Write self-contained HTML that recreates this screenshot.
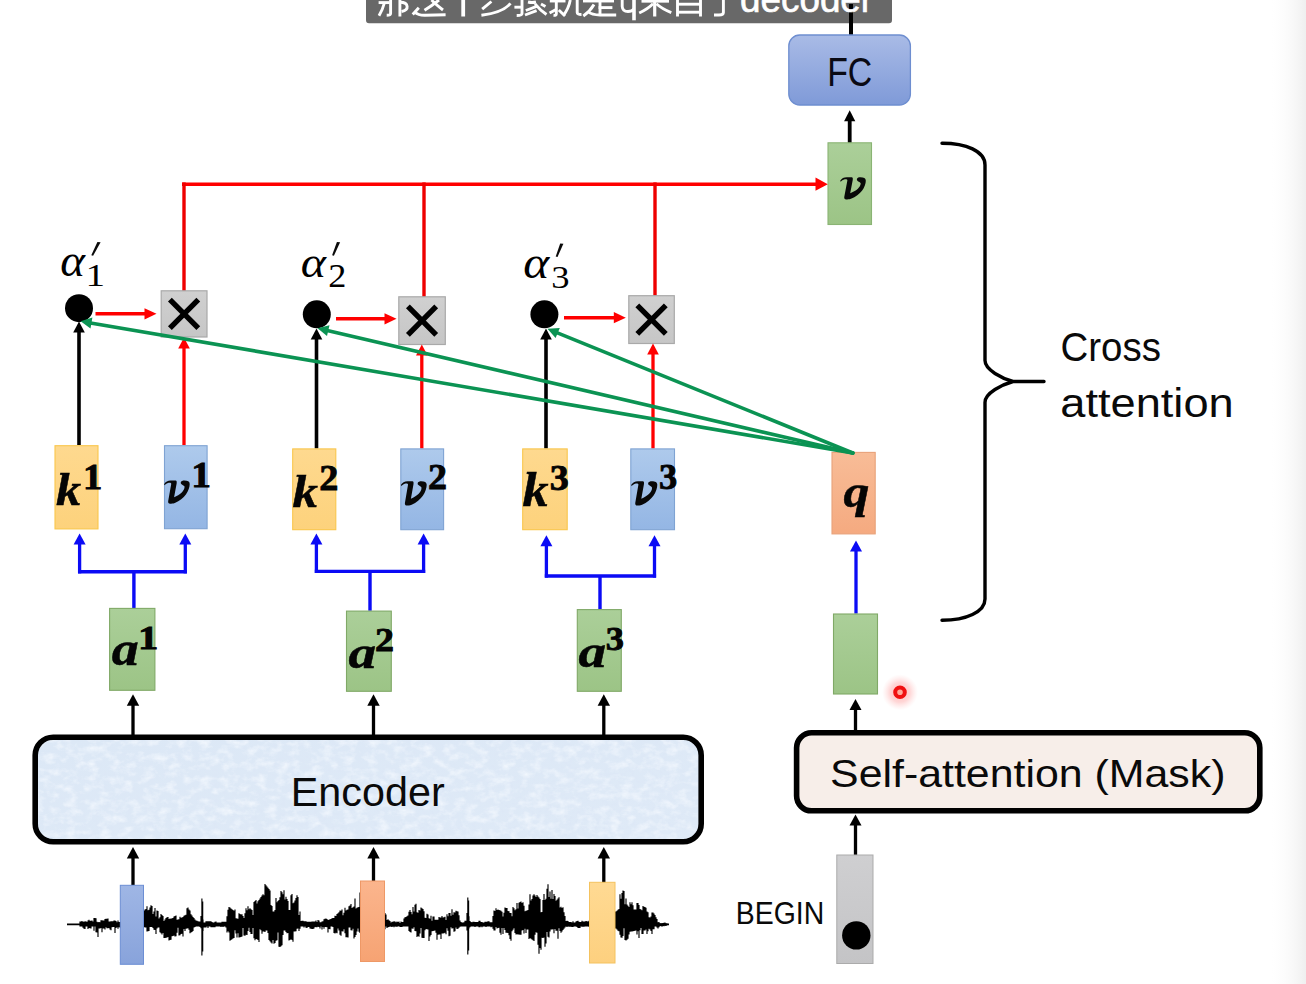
<!DOCTYPE html>
<html><head><meta charset="utf-8"><style>
html,body{margin:0;padding:0;background:#fff;width:1306px;height:984px;overflow:hidden}
svg{display:block}
</style></head><body>
<svg width="1306" height="984" viewBox="0 0 1306 984">
<defs>
<linearGradient id="edge" x1="0" x2="1"><stop offset="0" stop-color="#ffffff" stop-opacity="0"/><stop offset="1" stop-color="#efefef"/></linearGradient>
<linearGradient id="fcg" x1="0" y1="0" x2="0" y2="1"><stop offset="0" stop-color="#a9bbe6"/><stop offset="1" stop-color="#7f9ad8"/></linearGradient>
<linearGradient id="greeng" x1="0" y1="0" x2="0" y2="1"><stop offset="0" stop-color="#abcf99"/><stop offset="1" stop-color="#9cc486"/></linearGradient>
<linearGradient id="greyg" x1="0" y1="0" x2="0" y2="1"><stop offset="0" stop-color="#d0d0d0"/><stop offset="1" stop-color="#c6c6c6"/></linearGradient>
<linearGradient id="orangeg" x1="0" y1="0" x2="0" y2="1"><stop offset="0" stop-color="#fed98f"/><stop offset="1" stop-color="#fdd27c"/></linearGradient>
<linearGradient id="blueg" x1="0" y1="0" x2="0" y2="1"><stop offset="0" stop-color="#aecaec"/><stop offset="1" stop-color="#94b6e4"/></linearGradient>
<linearGradient id="qg" x1="0" y1="0" x2="0" y2="1"><stop offset="0" stop-color="#f8bc97"/><stop offset="1" stop-color="#f5aa80"/></linearGradient>
<linearGradient id="encg" x1="0" y1="0" x2="1" y2="1"><stop offset="0" stop-color="#dce8f6"/><stop offset="1" stop-color="#dfeaf7"/></linearGradient>
<linearGradient id="barblue" x1="0" y1="0" x2="0" y2="1"><stop offset="0" stop-color="#9fb6e5"/><stop offset="1" stop-color="#88a3db"/></linearGradient>
<linearGradient id="barorange" x1="0" y1="0" x2="0" y2="1"><stop offset="0" stop-color="#fbb58d"/><stop offset="1" stop-color="#f6a373"/></linearGradient>
<linearGradient id="baryellow" x1="0" y1="0" x2="0" y2="1"><stop offset="0" stop-color="#ffda93"/><stop offset="1" stop-color="#fdd07f"/></linearGradient>
<linearGradient id="beging" x1="0" y1="0" x2="0" y2="1"><stop offset="0" stop-color="#cfcfd1"/><stop offset="1" stop-color="#c4c4c6"/></linearGradient>
<filter id="paperD" x="0" y="0" width="100%" height="100%"><feTurbulence type="fractalNoise" baseFrequency="0.22 0.3" numOctaves="3" seed="4"/><feColorMatrix type="matrix" values="0 0 0 0 0.72  0 0 0 0 0.80  0 0 0 0 0.92  2.0 0 0 0 -0.92"/></filter><filter id="paperL" x="0" y="0" width="100%" height="100%"><feTurbulence type="fractalNoise" baseFrequency="0.09 0.13" numOctaves="4" seed="9"/><feColorMatrix type="matrix" values="0 0 0 0 0.93  0 0 0 0 0.96  0 0 0 0 1  0 1.6 0 0 -0.7"/></filter>
<radialGradient id="laser"><stop offset="0" stop-color="#ffb8b8" stop-opacity="1"/><stop offset="0.55" stop-color="#ffc8c8" stop-opacity="0.75"/><stop offset="1" stop-color="#ffdede" stop-opacity="0"/></radialGradient>
</defs>
<rect x="1268" y="0" width="38" height="984" fill="url(#edge)"/>
<path d="M366,0 H892 V20 Q892,23.3 889,23.3 H369 Q366,23.3 366,20 Z" fill="#686868"/>
<line x1="851" y1="4" x2="851" y2="36" stroke="#000" stroke-width="4"/>
<g fill="none" stroke="#fff" stroke-width="2.9" stroke-linecap="butt" stroke-linejoin="round">
<path d="M378.6,2.6 H389.7"/><path d="M384.2,3.5 Q382.5,10 379,15.8"/><path d="M390.6,0 V13.5 Q390.5,15.3 386.7,15.3"/>
<path d="M399.9,0 V16.5"/><path d="M400,2.3 C409,2.3 409.5,10 401.5,11.5"/>
<path d="M418.8,7.7 L412.7,14.5"/><path d="M415,12.2 Q418,15.3 425,15.2 L445.6,14.8"/>
<path d="M424.5,10.3 Q432,5.5 439,0"/><path d="M431.5,0 Q437,5.5 443,10"/>
<path d="M463.2,0 V16.5" stroke-width="3.8"/>
<path d="M491.4,1.5 L482.2,9.2"/><path d="M510.5,3.4 Q503,12.5 481.4,15.3"/>
<path d="M514.4,7.2 H523"/><path d="M522,0 V13.5 Q522,15.5 516.7,15.5"/>
<path d="M525,15 L536.6,10.7"/><path d="M525.8,10.5 L537.3,6.1"/><path d="M528,2 Q532,3 536,2"/><path d="M535,3.8 Q540,10 546.5,14.5"/><path d="M541,4 L545.5,6.5"/>
<path d="M549.8,1 H565.5"/><path d="M556.5,9.2 L549.6,13"/><path d="M556.3,0 V14 Q556.3,15.5 553.5,15.3"/><path d="M558.8,10 L565,16"/>
<path d="M570.3,0 Q568.5,9 563.4,15.3"/><path d="M577.2,0 V12.5 Q577.2,14.6 581.5,14.5"/>
<path d="M583,1 H614"/><path d="M598.6,7.6 H612.4"/><path d="M600,1 V14"/><path d="M594,4.6 Q590,11.5 583.3,16"/><path d="M587.9,11.5 Q592,15 600,15 H616.2"/>
<path d="M622.2,0 V6.5 Q622.5,11.5 628,11.5 Q632,11.5 634,9"/><path d="M634,0 V20.3" stroke-width="3.6"/>
<path d="M641.5,1.2 H669"/><path d="M654.7,0 V16.5" stroke-width="3.2"/><path d="M653,3.8 Q648,9 639.2,13"/><path d="M656.4,3.8 Q662,9 671.3,12.6"/>
<path d="M677.5,0 V16.5"/><path d="M700.5,0 V16.5"/><path d="M678,4.2 H700"/><path d="M678,12.2 H700"/>
<path d="M723.4,0 V12.5 Q723.4,15 719,15 H714"/>
</g><text transform="translate(740.03,12.06) scale(1.0059,1)" font-family="'Liberation Sans', sans-serif" font-style="normal" font-weight="normal" font-size="36.63" fill="#ffffff" stroke="#fff" stroke-width="0.6">decoder</text>
<line x1="851" y1="13" x2="851" y2="36" stroke="#000" stroke-width="4"/>
<rect x="788.8" y="35" width="121.6" height="70" rx="11" fill="url(#fcg)" stroke="#6e8ed0" stroke-width="1.3"/>
<text transform="translate(827.20,85.60) scale(0.8241,1)" font-family="'Liberation Sans', sans-serif" font-style="normal" font-weight="normal" font-size="41.01" fill="#0a0a14" >FC</text>
<line x1="849.7" y1="143" x2="849.7" y2="120.3" stroke="#000" stroke-width="3.8"/><polygon points="849.7,110.3 844.1,121.3 855.3000000000001,121.3" fill="#000"/>
<rect x="828" y="142.8" width="43.5" height="81.7" fill="url(#greeng)" stroke="#8ab474" stroke-width="1.1"/>
<path transform="translate(840.2,177.3) scale(25.59999999999991,22.19999999999999)" d="M0,0.16 C0.06,0.05 0.14,0 0.26,0 L0.45,0 C0.49,0 0.5,0.05 0.49,0.12 L0.39,0.72 C0.62,0.62 0.8,0.45 0.8,0.27 C0.8,0.22 0.71,0.2 0.67,0.15 C0.63,0.1 0.65,0 0.79,0 C0.92,0 1,0.04 1,0.15 C1,0.42 0.8,0.8 0.42,0.97 C0.34,1 0.28,1 0.24,1 C0.17,1 0.15,0.95 0.16,0.88 L0.28,0.14 C0.28,0.09 0.22,0.08 0.15,0.1 C0.09,0.12 0.04,0.17 0.02,0.2 Z" fill="#080808"/>
<line x1="182" y1="184.2" x2="817" y2="184.2" stroke="#ff0000" stroke-width="3.6"/>
<polygon points="827.8,184.2 815.5,177.6 815.5,190.8" fill="#ff0000"/>
<line x1="184" y1="182.4" x2="184" y2="291.5" stroke="#ee0000" stroke-width="3.4"/>
<line x1="424" y1="182.4" x2="424" y2="297" stroke="#ee0000" stroke-width="3.4"/>
<line x1="655" y1="182.4" x2="655" y2="296" stroke="#ee0000" stroke-width="3.4"/>
<rect x="161.2" y="290.8" width="45.80000000000001" height="46.19999999999999" fill="url(#greyg)" stroke="#a9a9a9" stroke-width="1.2"/><path d="M169.9,299.7 L198.3,328.1 M198.3,299.7 L169.9,328.1" stroke="#000" stroke-width="5.4"/>
<rect x="398.8" y="296.8" width="46.5" height="47.69999999999999" fill="url(#greyg)" stroke="#a9a9a9" stroke-width="1.2"/><path d="M407.9,306.4 L436.2,334.8 M436.2,306.4 L407.9,334.8" stroke="#000" stroke-width="5.4"/>
<rect x="628.8" y="295.7" width="45.5" height="47.80000000000001" fill="url(#greyg)" stroke="#a9a9a9" stroke-width="1.2"/><path d="M637.3,305.4 L665.8,333.8 M665.8,305.4 L637.3,333.8" stroke="#000" stroke-width="5.4"/>
<circle cx="79" cy="308.2" r="14" fill="#000"/>
<circle cx="316.8" cy="314.3" r="14" fill="#000"/>
<circle cx="544.4" cy="314.3" r="14" fill="#000"/>
<line x1="95.5" y1="313.8" x2="145.5" y2="313.8" stroke="#ff0000" stroke-width="3.6"/><polygon points="156.5,313.8 144.5,308.2 144.5,319.40000000000003" fill="#ff0000"/>
<line x1="336" y1="318.8" x2="385.5" y2="318.8" stroke="#ff0000" stroke-width="3.6"/><polygon points="396.5,318.8 384.5,313.2 384.5,324.40000000000003" fill="#ff0000"/>
<line x1="564" y1="317.7" x2="614.8" y2="317.7" stroke="#ff0000" stroke-width="3.6"/><polygon points="625.8,317.7 613.8,312.09999999999997 613.8,323.3" fill="#ff0000"/>
<text transform="translate(60.29,276.14) scale(1.0267,1)" font-family="'Liberation Serif', serif" font-style="italic" font-weight="normal" font-size="45.83" fill="#000" >α</text>
<polygon points="97.4,242 100.6,242.3 93.1,255.7 91.3,255.3" fill="#0a0a0a"/>
<text transform="translate(85.58,285.80) scale(1.2016,1)" font-family="'Liberation Serif', serif" font-style="normal" font-weight="normal" font-size="32.58" fill="#000" >1</text>
<text transform="translate(300.86,277.25) scale(1.0626,1)" font-family="'Liberation Serif', serif" font-style="italic" font-weight="normal" font-size="45.21" fill="#000" >α</text>
<polygon points="336.9,242 340.1,242.3 333.9,255.7 332.1,255.3" fill="#0a0a0a"/>
<text transform="translate(328.27,287.20) scale(1.0975,1)" font-family="'Liberation Serif', serif" font-style="normal" font-weight="normal" font-size="33.03" fill="#000" >2</text>
<text transform="translate(523.22,277.54) scale(1.0781,1)" font-family="'Liberation Serif', serif" font-style="italic" font-weight="normal" font-size="45.83" fill="#000" >α</text>
<polygon points="560.2,243.4 563.4,243.7 557.5,257 555.7,256.6" fill="#0a0a0a"/>
<text transform="translate(551.17,288.08) scale(1.1508,1)" font-family="'Liberation Serif', serif" font-style="normal" font-weight="normal" font-size="31.79" fill="#000" >3</text>
<line x1="79" y1="445" x2="79" y2="331.5" stroke="#000" stroke-width="3.6"/><polygon points="79,321.5 73.2,332.5 84.8,332.5" fill="#000"/>
<line x1="316.5" y1="448.5" x2="316.5" y2="338.5" stroke="#000" stroke-width="3.6"/><polygon points="316.5,328.5 310.7,339.5 322.3,339.5" fill="#000"/>
<line x1="546" y1="448.5" x2="546" y2="338.5" stroke="#000" stroke-width="3.6"/><polygon points="546,328.5 540.2,339.5 551.8,339.5" fill="#000"/>
<line x1="184" y1="445" x2="184" y2="347.5" stroke="#ff0000" stroke-width="3.3"/><polygon points="184,337.5 178.2,348.5 189.8,348.5" fill="#ff0000"/>
<line x1="421.8" y1="448.5" x2="421.8" y2="354.5" stroke="#ff0000" stroke-width="3.3"/><polygon points="421.8,344.5 416.0,355.5 427.6,355.5" fill="#ff0000"/>
<line x1="653" y1="448.5" x2="653" y2="353.5" stroke="#ff0000" stroke-width="3.3"/><polygon points="653,343.5 647.2,354.5 658.8,354.5" fill="#ff0000"/>
<rect x="55.0" y="445.7" width="43.0" height="83.2" fill="url(#orangeg)" stroke="#f9c64c" stroke-width="1.1"/>
<rect x="292.7" y="448.9" width="43.1" height="80.8" fill="url(#orangeg)" stroke="#f9c64c" stroke-width="1.1"/>
<rect x="522.7" y="448.9" width="44.5" height="80.8" fill="url(#orangeg)" stroke="#f9c64c" stroke-width="1.1"/>
<rect x="164.5" y="445.7" width="42.6" height="83.0" fill="url(#blueg)" stroke="#7fa3d3" stroke-width="1.1"/>
<rect x="400.8" y="448.9" width="42.8" height="80.8" fill="url(#blueg)" stroke="#7fa3d3" stroke-width="1.1"/>
<rect x="630.8" y="448.9" width="43.7" height="80.8" fill="url(#blueg)" stroke="#7fa3d3" stroke-width="1.1"/>
<text transform="translate(55.95,505.00) scale(1.0552,1)" font-family="'Liberation Serif', serif" font-style="italic" font-weight="bold" font-size="47.48" fill="#050505" stroke="#000" stroke-width="0.5">k</text>
<text transform="translate(82.91,488.80) scale(1.1042,1)" font-family="'Liberation Serif', serif" font-style="normal" font-weight="bold" font-size="35.00" fill="#050505" stroke="#000" stroke-width="0.8">1</text>
<text transform="translate(292.44,507.40) scale(1.0718,1)" font-family="'Liberation Serif', serif" font-style="italic" font-weight="bold" font-size="47.34" fill="#050505" stroke="#000" stroke-width="0.5">k</text>
<text transform="translate(319.37,490.00) scale(1.0670,1)" font-family="'Liberation Serif', serif" font-style="normal" font-weight="bold" font-size="35.91" fill="#050505" stroke="#000" stroke-width="0.8">2</text>
<text transform="translate(522.42,506.20) scale(1.0886,1)" font-family="'Liberation Serif', serif" font-style="italic" font-weight="bold" font-size="47.77" fill="#050505" stroke="#000" stroke-width="0.5">k</text>
<text transform="translate(549.68,490.04) scale(1.0597,1)" font-family="'Liberation Serif', serif" font-style="normal" font-weight="bold" font-size="35.97" fill="#050505" stroke="#000" stroke-width="0.8">3</text>
<path transform="translate(164.1,480.6) scale(25.599999999999994,23.19999999999999)" d="M0,0.16 C0.06,0.05 0.14,0 0.26,0 L0.45,0 C0.49,0 0.5,0.05 0.49,0.12 L0.39,0.72 C0.62,0.62 0.8,0.45 0.8,0.27 C0.8,0.22 0.71,0.2 0.67,0.15 C0.63,0.1 0.65,0 0.79,0 C0.92,0 1,0.04 1,0.15 C1,0.42 0.8,0.8 0.42,0.97 C0.34,1 0.28,1 0.24,1 C0.17,1 0.15,0.95 0.16,0.88 L0.28,0.14 C0.28,0.09 0.22,0.08 0.15,0.1 C0.09,0.12 0.04,0.17 0.02,0.2 Z" fill="#080808"/>
<text transform="translate(191.14,486.70) scale(1.0943,1)" font-family="'Liberation Serif', serif" font-style="normal" font-weight="bold" font-size="36.06" fill="#050505" stroke="#000" stroke-width="0.8">1</text>
<path transform="translate(400.8,481.2) scale(25.899999999999977,24.400000000000034)" d="M0,0.16 C0.06,0.05 0.14,0 0.26,0 L0.45,0 C0.49,0 0.5,0.05 0.49,0.12 L0.39,0.72 C0.62,0.62 0.8,0.45 0.8,0.27 C0.8,0.22 0.71,0.2 0.67,0.15 C0.63,0.1 0.65,0 0.79,0 C0.92,0 1,0.04 1,0.15 C1,0.42 0.8,0.8 0.42,0.97 C0.34,1 0.28,1 0.24,1 C0.17,1 0.15,0.95 0.16,0.88 L0.28,0.14 C0.28,0.09 0.22,0.08 0.15,0.1 C0.09,0.12 0.04,0.17 0.02,0.2 Z" fill="#080808"/>
<text transform="translate(427.98,489.10) scale(1.0878,1)" font-family="'Liberation Serif', serif" font-style="normal" font-weight="bold" font-size="35.00" fill="#050505" stroke="#000" stroke-width="0.8">2</text>
<path transform="translate(631.1,481.2) scale(26.199999999999932,24.400000000000034)" d="M0,0.16 C0.06,0.05 0.14,0 0.26,0 L0.45,0 C0.49,0 0.5,0.05 0.49,0.12 L0.39,0.72 C0.62,0.62 0.8,0.45 0.8,0.27 C0.8,0.22 0.71,0.2 0.67,0.15 C0.63,0.1 0.65,0 0.79,0 C0.92,0 1,0.04 1,0.15 C1,0.42 0.8,0.8 0.42,0.97 C0.34,1 0.28,1 0.24,1 C0.17,1 0.15,0.95 0.16,0.88 L0.28,0.14 C0.28,0.09 0.22,0.08 0.15,0.1 C0.09,0.12 0.04,0.17 0.02,0.2 Z" fill="#080808"/>
<text transform="translate(658.94,488.75) scale(1.0310,1)" font-family="'Liberation Serif', serif" font-style="normal" font-weight="bold" font-size="35.37" fill="#050505" stroke="#000" stroke-width="0.8">3</text>
<rect x="832.0" y="452.4" width="43.2" height="81.5" fill="url(#qg)" stroke="#e8a27a" stroke-width="1.1"/>
<text transform="translate(843.42,506.52) scale(1.1041,1)" font-family="'Liberation Serif', serif" font-style="italic" font-weight="bold" font-size="46.86" fill="#050505" stroke="#000" stroke-width="0.5">q</text>
<line x1="852.8" y1="453" x2="90.5" y2="322.9" stroke="#0b9353" stroke-width="3.6" stroke-linecap="round"/><polygon points="80.6,321.2 92.4,317.6 90.5,328.5" fill="#0b9353"/>
<line x1="852.8" y1="453" x2="327.2" y2="330.5" stroke="#0b9353" stroke-width="3.6" stroke-linecap="round"/><polygon points="317.5,328.2 329.5,325.3 327.0,336.1" fill="#0b9353"/>
<line x1="852.8" y1="453" x2="556.8" y2="332.6" stroke="#0b9353" stroke-width="3.6" stroke-linecap="round"/><polygon points="547.5,328.8 559.8,327.9 555.6,338.0" fill="#0b9353"/>
<path d="M133.9,608.4 V571.8 M78.0,571.8 H186.9" stroke="#0b0bf5" stroke-width="3.4" fill="none"/>
<line x1="79.6" y1="573.4" x2="79.6" y2="543.5" stroke="#0b0bf5" stroke-width="3.3"/><polygon points="79.6,533.5 73.6,544.5 85.6,544.5" fill="#0b0bf5"/>
<line x1="185.3" y1="573.4" x2="185.3" y2="543.5" stroke="#0b0bf5" stroke-width="3.3"/><polygon points="185.3,533.5 179.3,544.5 191.3,544.5" fill="#0b0bf5"/>
<path d="M370,610.7 V571.4 M314.79999999999995,571.4 H425.20000000000005" stroke="#0b0bf5" stroke-width="3.4" fill="none"/>
<line x1="316.4" y1="573.0" x2="316.4" y2="543.5" stroke="#0b0bf5" stroke-width="3.3"/><polygon points="316.4,533.5 310.4,544.5 322.4,544.5" fill="#0b0bf5"/>
<line x1="423.6" y1="573.0" x2="423.6" y2="543.5" stroke="#0b0bf5" stroke-width="3.3"/><polygon points="423.6,533.5 417.6,544.5 429.6,544.5" fill="#0b0bf5"/>
<path d="M600,609.2 V576 M544.8,576 H656.1" stroke="#0b0bf5" stroke-width="3.4" fill="none"/>
<line x1="546.4" y1="577.6" x2="546.4" y2="545.3" stroke="#0b0bf5" stroke-width="3.3"/><polygon points="546.4,535.3 540.4,546.3 552.4,546.3" fill="#0b0bf5"/>
<line x1="654.5" y1="577.6" x2="654.5" y2="545.3" stroke="#0b0bf5" stroke-width="3.3"/><polygon points="654.5,535.3 648.5,546.3 660.5,546.3" fill="#0b0bf5"/>
<line x1="856" y1="613.6" x2="856" y2="550.4" stroke="#0b0bf5" stroke-width="3.3"/><polygon points="856,540.4 850,551.4 862,551.4" fill="#0b0bf5"/>
<rect x="109.6" y="608.4" width="45.3" height="81.9" fill="url(#greeng)" stroke="#80a967" stroke-width="1.1"/>
<rect x="346.5" y="611.1" width="44.8" height="80.2" fill="url(#greeng)" stroke="#80a967" stroke-width="1.1"/>
<rect x="577.3" y="609.6" width="44.0" height="81.7" fill="url(#greeng)" stroke="#80a967" stroke-width="1.1"/>
<text transform="translate(111.76,664.82) scale(1.1265,1)" font-family="'Liberation Serif', serif" font-style="italic" font-weight="bold" font-size="47.92" fill="#050505" stroke="#000" stroke-width="0.5">a</text>
<text transform="translate(138.04,649.30) scale(1.1762,1)" font-family="'Liberation Serif', serif" font-style="normal" font-weight="bold" font-size="34.70" fill="#050505" stroke="#000" stroke-width="0.8">1</text>
<text transform="translate(348.55,667.73) scale(1.1739,1)" font-family="'Liberation Serif', serif" font-style="italic" font-weight="bold" font-size="47.08" fill="#050505" stroke="#000" stroke-width="0.5">a</text>
<text transform="translate(375.08,650.50) scale(1.1118,1)" font-family="'Liberation Serif', serif" font-style="normal" font-weight="bold" font-size="34.24" fill="#050505" stroke="#000" stroke-width="0.8">2</text>
<text transform="translate(578.55,667.43) scale(1.1739,1)" font-family="'Liberation Serif', serif" font-style="italic" font-weight="bold" font-size="47.08" fill="#050505" stroke="#000" stroke-width="0.5">a</text>
<text transform="translate(605.74,650.16) scale(1.0812,1)" font-family="'Liberation Serif', serif" font-style="normal" font-weight="bold" font-size="33.73" fill="#050505" stroke="#000" stroke-width="0.8">3</text>
<rect x="833.5" y="614.0" width="44.0" height="80.0" fill="url(#greeng)" stroke="#80a967" stroke-width="1.1"/>
<circle cx="900" cy="692.3" r="18" fill="url(#laser)"/>
<circle cx="900" cy="692.3" r="4.8" fill="#ffa898" stroke="#f01010" stroke-width="4"/>
<line x1="133" y1="737" x2="133" y2="704.8" stroke="#000" stroke-width="3.3"/><polygon points="133,694.3 126.8,705.8 139.2,705.8" fill="#000"/>
<line x1="133" y1="885" x2="133" y2="857.5" stroke="#000" stroke-width="3.3"/><polygon points="133,847 126.8,858.5 139.2,858.5" fill="#000"/>
<line x1="373.5" y1="737" x2="373.5" y2="704.8" stroke="#000" stroke-width="3.3"/><polygon points="373.5,694.3 367.3,705.8 379.7,705.8" fill="#000"/>
<line x1="373.5" y1="885" x2="373.5" y2="857.5" stroke="#000" stroke-width="3.3"/><polygon points="373.5,847 367.3,858.5 379.7,858.5" fill="#000"/>
<line x1="603.8" y1="737" x2="603.8" y2="704.8" stroke="#000" stroke-width="3.3"/><polygon points="603.8,694.3 597.5999999999999,705.8 610.0,705.8" fill="#000"/>
<line x1="603.8" y1="885" x2="603.8" y2="857.5" stroke="#000" stroke-width="3.3"/><polygon points="603.8,847 597.5999999999999,858.5 610.0,858.5" fill="#000"/>
<rect x="35.2" y="737.3" width="666" height="104.5" rx="18" fill="url(#encg)" stroke="#000" stroke-width="5.6"/>
<clipPath id="encclip"><rect x="38" y="740" width="660" height="99" rx="15"/></clipPath><g clip-path="url(#encclip)"><rect x="38" y="740" width="660" height="99" fill="#000" filter="url(#paperD)"/><rect x="38" y="740" width="660" height="99" fill="#000" filter="url(#paperL)"/></g>
<text transform="translate(290.79,806.00) scale(1.0183,1)" font-family="'Liberation Sans', sans-serif" font-style="normal" font-weight="normal" font-size="40.58" fill="#0a0a0a" >Encoder</text>
<line x1="67" y1="924.4" x2="669" y2="924.4" stroke="#000" stroke-width="1.8"/><path d="M80.0,921.6V926.4M81.0,921.6V926.4M82.0,921.1V926.4M83.0,921.7V927.8M84.0,921.6V928.8M85.0,921.4V929.0M86.0,921.3V926.4M87.0,922.1V926.4M88.0,920.5V928.9M89.0,919.8V928.1M90.0,920.8V928.2M91.0,920.7V928.4M92.0,920.5V926.4M93.0,921.5V926.5M94.0,918.1V930.8M95.0,917.9V926.5M96.0,918.2V932.3M97.0,921.8V932.6M98.0,922.2V936.9M99.0,922.1V928.6M100.0,922.2V928.6M101.0,920.3V928.1M102.0,920.2V932.2M103.0,920.5V928.5M104.0,920.4V928.5M105.0,919.0V929.4M106.0,918.8V927.2M107.0,918.7V928.2M108.0,918.6V928.3M109.0,921.4V927.9M110.0,921.4V929.4M111.0,921.3V930.3M112.0,921.2V927.2M113.0,921.2V927.1M114.0,920.5V927.1M115.0,920.6V932.9M116.0,921.0V927.9M117.0,922.2V927.3M118.0,920.5V928.7M119.0,922.0V927.2M120.0,922.1V927.6M121.0,921.8V928.2M122.0,922.4V926.5M123.0,921.4V927.2M124.0,920.3V927.4M125.0,920.0V927.6M126.0,919.6V926.4M127.0,921.4V926.4M128.0,921.2V926.4M129.0,917.2V929.4M130.0,915.1V928.4M131.0,914.6V928.6M132.0,914.0V928.8M133.0,913.5V929.0M134.0,914.7V929.2M135.0,914.2V931.4M136.0,913.8V930.2M137.0,914.0V926.7M138.0,913.6V926.8M139.0,913.1V926.9M140.0,911.6V929.4M141.0,911.1V932.6M142.0,911.7V928.0M143.0,911.3V931.6M144.0,910.8V927.0M145.0,909.5V927.6M146.0,908.9V927.5M147.0,906.3V931.4M148.0,910.3V931.2M149.0,909.8V931.0M150.0,907.5V927.0M151.0,905.2V927.0M152.0,905.9V927.1M153.0,914.1V927.9M154.0,911.4V929.7M155.0,908.0V929.9M156.0,916.6V933.9M157.0,910.4V928.5M158.0,911.0V927.5M159.0,918.5V927.5M160.0,917.3V932.2M161.0,914.1V933.3M162.0,915.1V934.4M163.0,916.1V933.1M164.0,921.1V938.1M165.0,919.4V938.1M166.0,917.9V937.8M167.0,917.3V937.5M168.0,916.9V937.1M169.0,918.9V940.6M170.0,918.6V940.1M171.0,918.7V939.7M172.0,918.3V936.2M173.0,917.9V935.9M174.0,916.4V935.6M175.0,916.0V936.5M176.0,915.4V936.2M177.0,919.8V932.7M178.0,919.6V927.7M179.0,919.3V935.6M180.0,916.7V935.3M181.0,917.8V934.0M182.0,917.4V933.8M183.0,917.0V936.5M184.0,915.7V928.9M185.0,915.2V930.9M186.0,914.7V928.8M187.0,908.2V928.5M188.0,907.6V928.3M189.0,909.6V929.7M190.0,910.4V933.2M191.0,914.3V932.5M192.0,915.5V931.9M193.0,917.1V931.1M194.0,918.1V927.5M195.0,919.5V927.1M196.0,920.4V926.4M197.0,920.8V926.4M198.0,921.2V926.4M199.0,921.4V926.4M200.0,921.4V927.0M201.0,915.9V928.3M202.0,906.4V937.7M203.0,919.4V931.1M204.0,922.4V927.4M205.0,922.4V927.4M206.0,921.3V927.4M207.0,921.3V926.4M208.0,921.3V928.0M209.0,921.3V926.4M210.0,921.3V926.4M211.0,921.3V927.2M212.0,921.9V927.2M213.0,922.4V927.2M214.0,922.4V927.2M215.0,921.7V927.2M216.0,921.4V926.4M217.0,922.4V926.4M218.0,922.4V926.4M219.0,922.4V926.4M220.0,922.4V926.4M221.0,922.4V927.1M222.0,921.8V926.4M223.0,921.8V926.9M224.0,921.8V926.4M225.0,921.8V926.4M226.0,921.7V927.6M227.0,916.2V932.4M228.0,909.8V931.2M229.0,906.9V932.6M230.0,907.6V940.7M231.0,908.4V940.1M232.0,909.2V939.2M233.0,909.9V938.6M234.0,910.7V938.0M235.0,909.4V930.2M236.0,918.2V933.4M237.0,918.5V937.4M238.0,918.7V933.2M239.0,913.3V937.5M240.0,913.9V937.2M241.0,914.4V936.9M242.0,914.3V936.5M243.0,916.0V928.0M244.0,917.9V935.4M245.0,913.2V935.7M246.0,908.3V934.8M247.0,910.3V935.0M248.0,906.2V931.1M249.0,909.3V927.7M250.0,908.3V932.1M251.0,909.3V933.9M252.0,909.9V934.1M253.0,915.0V927.9M254.0,901.9V938.3M255.0,901.0V940.2M256.0,900.1V939.0M257.0,903.4V939.3M258.0,901.3V939.9M259.0,899.9V941.9M260.0,898.5V929.2M261.0,897.1V930.3M262.0,895.6V933.8M263.0,894.2V931.4M264.0,895.3V931.6M265.0,884.0V932.0M266.0,885.2V930.4M267.0,886.5V930.6M268.0,887.7V933.1M269.0,889.0V940.1M270.0,890.5V941.2M271.0,905.1V942.4M272.0,906.0V943.6M273.0,911.4V940.1M274.0,911.6V943.8M275.0,910.1V943.1M276.0,898.0V940.8M277.0,902.2V940.2M278.0,901.1V932.4M279.0,900.1V946.8M280.0,897.2V947.1M281.0,891.0V946.2M282.0,892.3V945.3M283.0,894.3V935.0M284.0,890.3V930.6M285.0,899.5V930.5M286.0,896.7V932.0M287.0,899.0V933.2M288.0,900.9V933.1M289.0,910.1V940.6M290.0,910.1V939.9M291.0,895.2V939.2M292.0,894.0V940.0M293.0,903.3V941.7M294.0,902.4V931.6M295.0,900.6V931.5M296.0,898.0V931.2M297.0,895.2V928.8M298.0,897.1V928.6M299.0,915.0V931.1M300.0,911.4V928.7M301.0,920.9V926.4M302.0,920.8V926.4M303.0,920.8V926.4M304.0,921.3V927.4M305.0,921.3V926.4M306.0,921.2V927.8M307.0,921.8V927.9M308.0,921.8V927.0M309.0,921.8V927.1M310.0,921.7V928.6M311.0,921.7V928.8M312.0,921.6V928.9M313.0,921.6V929.1M314.0,921.6V928.5M315.0,921.5V927.1M316.0,920.5V927.2M317.0,922.0V927.3M318.0,919.9V926.8M319.0,920.6V926.9M320.0,922.3V928.5M321.0,922.3V926.4M322.0,921.5V929.6M323.0,921.2V927.0M324.0,919.2V928.7M325.0,918.8V927.1M326.0,918.5V927.1M327.0,918.9V927.2M328.0,920.1V932.4M329.0,919.8V929.1M330.0,919.3V929.2M331.0,919.1V926.4M332.0,918.3V926.5M333.0,918.0V927.0M334.0,918.0V933.0M335.0,915.7V933.5M336.0,915.9V932.8M337.0,913.9V933.2M338.0,913.3V928.5M339.0,912.3V930.4M340.0,910.5V934.8M341.0,910.7V935.7M342.0,909.6V931.3M343.0,915.3V931.4M344.0,912.8V929.2M345.0,907.8V933.3M346.0,910.5V937.2M347.0,909.8V937.3M348.0,909.4V937.5M349.0,906.2V927.4M350.0,905.4V927.5M351.0,903.9V930.3M352.0,908.0V930.5M353.0,907.2V928.8M354.0,906.4V938.6M355.0,898.6V937.0M356.0,908.5V935.1M357.0,907.8V931.5M358.0,907.3V928.5M359.0,906.9V931.7M360.0,892.4V933.1M361.0,893.0V933.0M362.0,893.8V930.6M363.0,912.5V935.3M364.0,912.8V935.1M365.0,913.2V927.8M366.0,905.8V927.7M367.0,905.8V935.6M368.0,906.4V928.3M369.0,907.0V928.2M370.0,907.9V928.0M371.0,908.5V927.9M372.0,904.5V927.8M373.0,902.8V928.1M374.0,911.8V932.7M375.0,904.6V930.1M376.0,905.0V934.6M377.0,909.7V928.2M378.0,910.4V928.1M379.0,911.1V927.1M380.0,911.7V933.4M381.0,912.3V933.1M382.0,913.2V926.5M383.0,910.9V926.5M384.0,911.8V930.2M385.0,913.0V929.2M386.0,914.6V926.5M387.0,920.1V927.9M388.0,919.3V927.3M389.0,920.2V927.1M390.0,921.0V926.4M391.0,922.4V926.8M392.0,921.8V927.1M393.0,921.7V926.6M394.0,921.2V927.3M395.0,921.5V926.4M396.0,922.3V926.7M397.0,921.4V926.7M398.0,922.1V926.5M399.0,921.4V926.3M400.0,923.1V927.0M401.0,921.4V927.1M402.0,922.0V927.1M403.0,922.0V926.4M404.0,918.4V926.4M405.0,917.2V926.6M406.0,917.1V926.4M407.0,916.3V926.4M408.0,915.5V926.4M409.0,911.7V931.1M410.0,910.0V932.0M411.0,911.9V932.4M412.0,914.2V928.5M413.0,906.9V928.8M414.0,911.5V927.2M415.0,904.8V930.9M416.0,903.8V931.2M417.0,912.2V936.9M418.0,912.7V935.9M419.0,909.9V936.7M420.0,910.5V933.5M421.0,907.4V928.1M422.0,908.2V937.7M423.0,909.0V937.9M424.0,911.3V938.1M425.0,917.7V930.2M426.0,918.1V929.0M427.0,913.8V929.2M428.0,914.6V929.4M429.0,918.2V941.0M430.0,918.8V936.4M431.0,915.8V934.9M432.0,920.8V931.2M433.0,916.6V931.0M434.0,916.6V930.8M435.0,919.7V930.6M436.0,919.7V932.7M437.0,919.7V939.8M438.0,919.7V934.8M439.0,917.1V934.5M440.0,917.6V934.4M441.0,917.5V938.9M442.0,915.9V933.6M443.0,917.4V933.4M444.0,917.3V933.3M445.0,916.8V932.7M446.0,920.1V934.3M447.0,914.3V928.2M448.0,916.2V930.7M449.0,913.0V936.2M450.0,913.1V935.7M451.0,915.8V927.2M452.0,909.3V928.4M453.0,914.8V928.2M454.0,912.2V931.7M455.0,912.5V931.3M456.0,910.8V927.4M457.0,911.2V929.0M458.0,911.5V928.8M459.0,915.3V927.8M460.0,920.5V926.8M461.0,921.9V926.4M462.0,922.4V926.4M463.0,922.4V926.4M464.0,922.2V926.4M465.0,920.8V926.4M466.0,920.8V926.4M467.0,913.1V930.4M468.0,904.1V935.4M469.0,916.2V928.5M470.0,920.9V927.2M471.0,922.0V926.4M472.0,922.3V926.4M473.0,921.8V926.4M474.0,921.8V926.4M475.0,921.9V926.9M476.0,922.1V926.4M477.0,921.9V926.4M478.0,921.9V926.4M479.0,920.8V927.2M480.0,920.8V927.2M481.0,922.0V926.4M482.0,922.0V927.2M483.0,922.4V926.4M484.0,922.4V926.4M485.0,921.8V926.4M486.0,921.8V927.0M487.0,921.8V926.4M488.0,921.2V926.4M489.0,921.2V926.4M490.0,922.3V926.4M491.0,922.3V927.3M492.0,922.3V926.8M493.0,916.0V928.7M494.0,910.5V930.5M495.0,911.0V930.6M496.0,908.3V926.9M497.0,910.1V928.4M498.0,909.6V927.9M499.0,910.1V927.7M500.0,910.3V932.7M501.0,910.8V934.8M502.0,911.7V928.1M503.0,916.5V933.9M504.0,912.8V928.1M505.0,907.6V930.1M506.0,907.9V932.7M507.0,908.1V932.8M508.0,911.0V932.9M509.0,911.2V935.3M510.0,912.9V939.1M511.0,913.1V940.8M512.0,916.2V931.2M513.0,907.1V929.7M514.0,908.3V928.2M515.0,910.3V933.0M516.0,909.3V934.6M517.0,902.9V934.3M518.0,908.4V934.5M519.0,902.8V934.6M520.0,902.1V934.7M521.0,901.4V934.8M522.0,902.9V930.4M523.0,902.3V930.0M524.0,905.7V933.5M525.0,911.2V928.8M526.0,910.8V932.9M527.0,910.5V929.5M528.0,910.1V929.5M529.0,904.6V938.9M530.0,894.3V938.0M531.0,900.4V938.8M532.0,899.1V939.5M533.0,895.6V940.2M534.0,894.2V940.9M535.0,895.6V934.8M536.0,897.0V932.2M537.0,895.0V932.7M538.0,896.6V944.8M539.0,897.4V953.7M540.0,899.0V947.9M541.0,912.2V949.7M542.0,912.0V937.7M543.0,900.1V938.1M544.0,894.1V937.4M545.0,900.0V946.7M546.0,898.7V943.5M547.0,888.7V931.9M548.0,884.2V936.8M549.0,897.1V937.6M550.0,891.4V931.5M551.0,898.7V929.5M552.0,889.9V929.5M553.0,899.0V929.3M554.0,894.1V933.2M555.0,895.9V928.9M556.0,900.8V930.8M557.0,899.7V930.7M558.0,898.5V938.8M559.0,897.2V928.2M560.0,907.5V931.1M561.0,906.8V932.8M562.0,908.0V931.5M563.0,907.2V930.1M564.0,912.2V928.8M565.0,915.9V927.5M566.0,921.1V926.4M567.0,920.8V927.0M568.0,920.9V926.5M569.0,921.9V926.8M570.0,921.9V926.7M571.0,922.1V926.7M572.0,922.4V927.1M573.0,921.2V926.9M574.0,922.4V926.4M575.0,922.4V926.4M576.0,921.6V926.4M577.0,920.9V927.1M578.0,920.7V927.9M579.0,921.8V927.9M580.0,922.1V927.9M581.0,922.1V926.4M582.0,920.7V926.7M583.0,921.4V926.7M584.0,921.4V926.7M585.0,921.4V926.5M586.0,921.0V926.5M587.0,921.3V926.4M588.0,921.4V926.4M589.0,920.7V926.8M590.0,919.2V926.6M591.0,918.4V926.7M592.0,918.3V926.9M593.0,917.1V929.9M594.0,919.3V930.2M595.0,918.9V930.6M596.0,918.4V930.9M597.0,913.3V930.4M598.0,912.5V930.3M599.0,914.6V930.5M600.0,916.1V926.4M601.0,911.5V927.2M602.0,910.7V927.3M603.0,910.0V932.6M604.0,909.3V928.3M605.0,917.1V932.9M606.0,916.8V927.4M607.0,906.5V933.9M608.0,904.4V931.3M609.0,903.6V931.5M610.0,906.1V927.0M611.0,910.0V928.6M612.0,909.5V928.8M613.0,912.2V928.9M614.0,911.8V936.7M615.0,911.4V928.4M616.0,911.4V928.4M617.0,910.8V929.5M618.0,909.7V930.8M619.0,909.0V931.3M620.0,894.3V934.7M621.0,898.8V937.5M622.0,893.1V937.7M623.0,890.6V936.0M624.0,891.0V928.2M625.0,904.3V940.1M626.0,898.4V940.5M627.0,904.5V939.8M628.0,905.7V938.8M629.0,907.1V934.5M630.0,902.2V931.8M631.0,904.2V931.6M632.0,902.2V931.4M633.0,905.3V931.2M634.0,909.5V931.0M635.0,909.5V930.8M636.0,909.5V930.6M637.0,903.0V934.6M638.0,903.0V931.3M639.0,905.0V937.9M640.0,909.0V930.2M641.0,909.6V928.1M642.0,910.2V934.0M643.0,905.9V933.9M644.0,906.7V930.6M645.0,907.0V930.5M646.0,907.8V929.4M647.0,911.4V933.9M648.0,912.2V931.3M649.0,917.2V928.7M650.0,917.6V929.6M651.0,916.6V930.9M652.0,912.5V934.0M653.0,912.6V929.3M654.0,913.4V929.3M655.0,915.0V926.5M656.0,917.3V926.4M657.0,918.9V927.6M658.0,922.3V928.5M659.0,921.9V927.3M660.0,923.2V926.3M661.0,923.2V925.9M662.0,923.3V926.8M663.0,923.1V926.0M664.0,922.8V926.3M665.0,922.6V925.7M666.0,923.3V925.9M667.0,923.4V925.3M201.9,898.4V955.4M202.7,901.4V951.4M467.8,897.4V954.4M468.6,900.4V950.4" stroke="#000" stroke-width="1.15" fill="none"/>
<rect x="120.3" y="885.3" width="23.2" height="79" fill="url(#barblue)" stroke="#6c8ed4" stroke-width="1"/>
<rect x="360.5" y="881" width="24" height="80.5" fill="url(#barorange)" stroke="#ee9866" stroke-width="1"/>
<rect x="589.5" y="882.3" width="25.5" height="80.7" fill="url(#baryellow)" stroke="#f4c25e" stroke-width="1"/>
<line x1="855.5" y1="731" x2="855.5" y2="709" stroke="#000" stroke-width="3.3"/><polygon points="855.5,699 849.5,710 861.5,710" fill="#000"/>
<line x1="855.5" y1="855" x2="855.5" y2="824.5" stroke="#000" stroke-width="3.3"/><polygon points="855.5,814.5 849.5,825.5 861.5,825.5" fill="#000"/>
<rect x="796.6" y="732.8" width="463.2" height="78" rx="15" fill="#f7eee9" stroke="#000" stroke-width="5.6"/>
<text transform="translate(830.07,786.50) scale(1.0876,1)" font-family="'Liberation Sans', sans-serif" font-style="normal" font-weight="normal" font-size="39.42" fill="#0a0a0a" >Self-attention (Mask)</text>
<rect x="836.8" y="855" width="36.2" height="108.5" fill="url(#beging)" stroke="#ababab" stroke-width="1"/>
<circle cx="856.3" cy="935.4" r="14.2" fill="#000"/>
<text transform="translate(735.72,923.90) scale(0.8961,1)" font-family="'Liberation Sans', sans-serif" font-style="normal" font-weight="normal" font-size="31.74" fill="#0a0a0a" >BEGIN</text>
<path d="M942,143.3 C966,143.3 985,151 985,165 V360.6 C985,370 1002.3,378.5 1013,381.5 H1044 M1013,381.5 C1002.3,384.5 985,393 985,402.4 V599 C985,612 966,620.3 942,620.3" fill="none" stroke="#000" stroke-width="3.4" stroke-linecap="round"/>
<text transform="translate(1060.38,361.30) scale(0.9659,1)" font-family="'Liberation Sans', sans-serif" font-style="normal" font-weight="normal" font-size="39.86" fill="#0a0a0a" >Cross</text>
<text transform="translate(1060.27,416.80) scale(1.0999,1)" font-family="'Liberation Sans', sans-serif" font-style="normal" font-weight="normal" font-size="41.10" fill="#0a0a0a" >attention</text>
</svg>
</body></html>
